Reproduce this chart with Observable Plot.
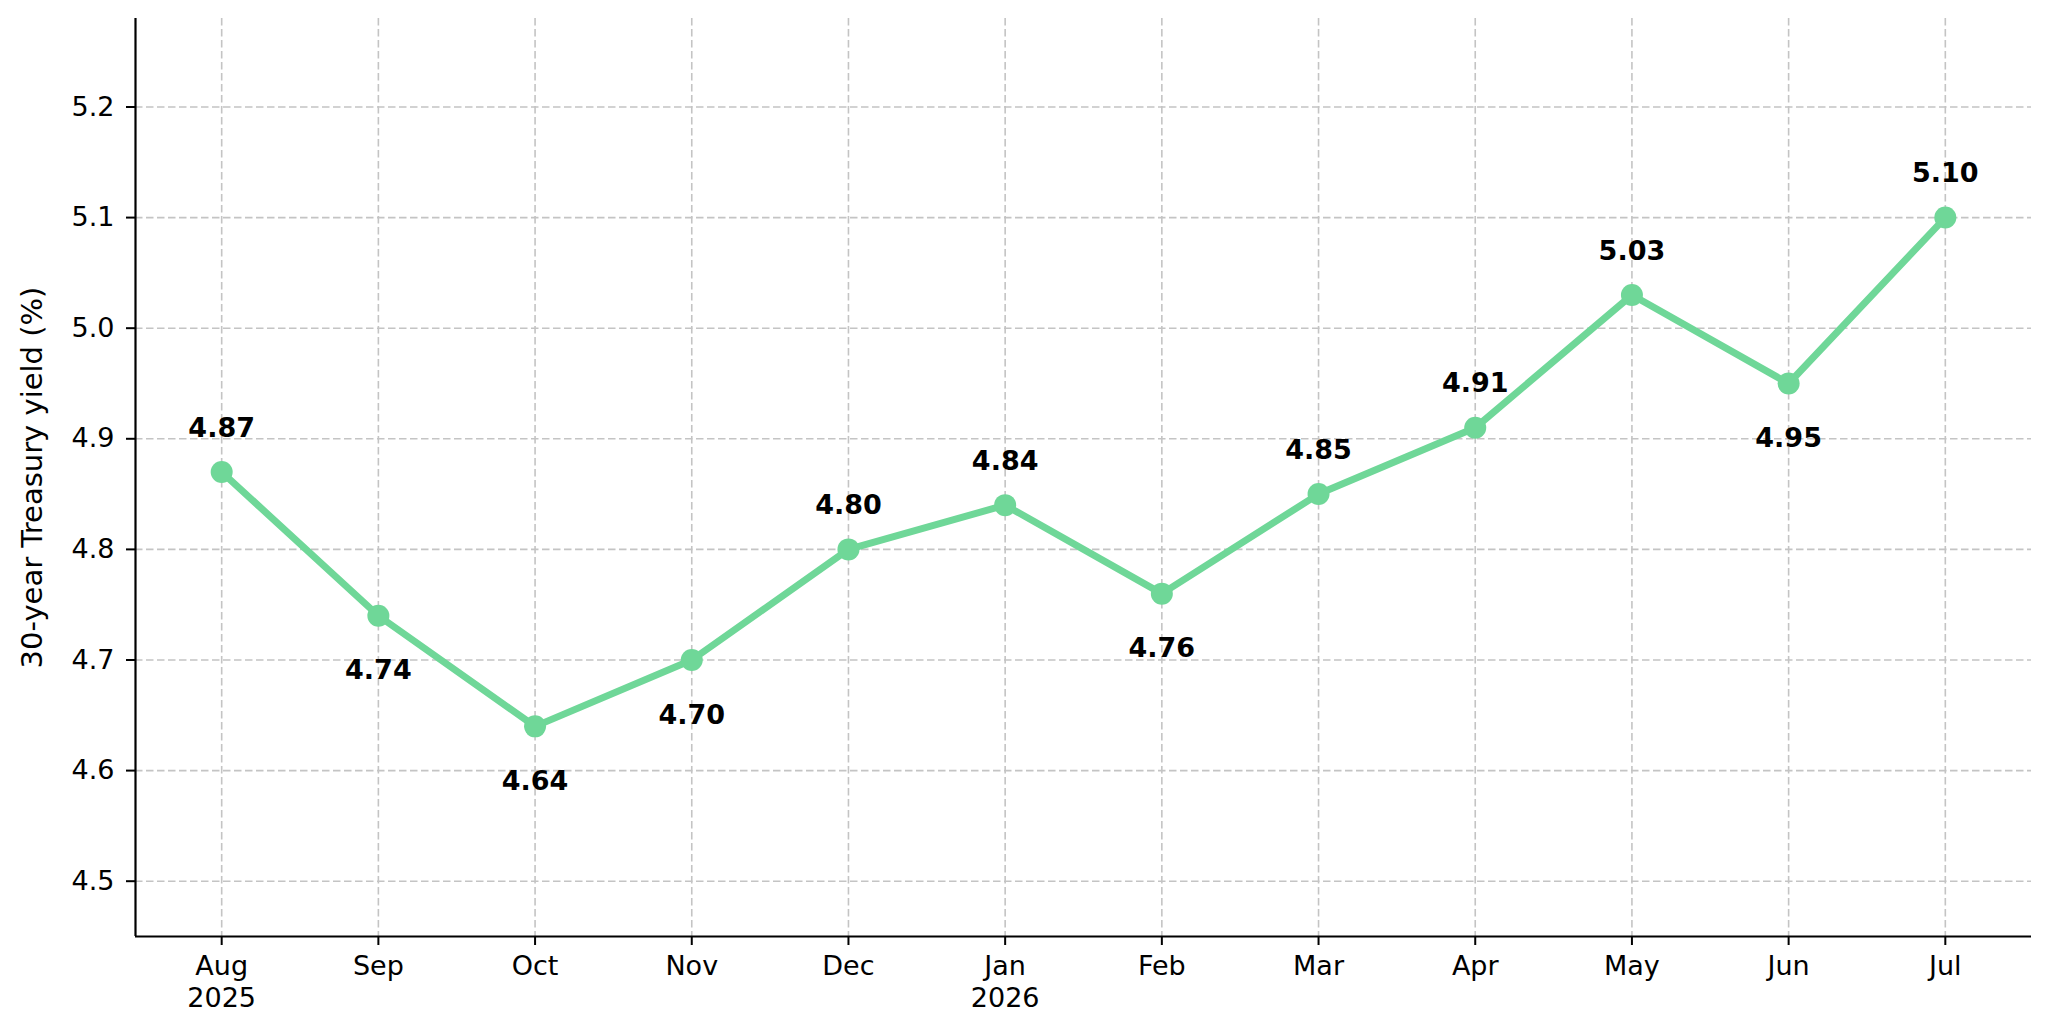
<!DOCTYPE html>
<html>
<head>
<meta charset="utf-8">
<script src="https://cdn.jsdelivr.net/npm/d3@7"></script>
<script src="https://cdn.jsdelivr.net/npm/@observablehq/plot@0.6"></script>
<style>
  html, body { margin: 0; padding: 0; background: #fff; }
  #chart svg { display: block; }
</style>
</head>
<body>
<div id="chart"></div>
<script>
// Data
const months = ["Aug", "Sep", "Oct", "Nov", "Dec", "Jan", "Feb", "Mar", "Apr", "May", "Jun", "Jul"];
const years = ["2025", "", "", "", "", "2026", "", "", "", "", "", ""];
const yields = [4.87, 4.74, 4.64, 4.70, 4.80, 4.84, 4.76, 4.85, 4.91, 5.03, 4.95, 5.10];
const belowLabelMonths = ["Sep", "Oct", "Nov", "Feb", "Jun"];
const yTicks = [4.5, 4.6, 4.7, 4.8, 4.9, 5.0, 5.1, 5.2];
const yLabel = "30-year Treasury yield (%)";

const data = months.map((m, i) => ({i, month: m, year: years[i], value: yields[i]}));
const xTicks = data.map(d => d.i);
const tickLabel = i => data[i].year ? `${data[i].month}\n${data[i].year}` : data[i].month;

const color = "#6fd798";
const gridStyle = {stroke: "#c4c4c4", strokeOpacity: 1, strokeWidth: 1.6, strokeDasharray: "7.5,3.5"};
const xDomain = [-0.55, months.length - 1 + 0.55];
const yDomain = [4.45, 5.28];

const chart = Plot.plot({
  width: 2048,
  height: 1030,
  marginLeft: 135,
  marginRight: 17,
  marginTop: 18,
  marginBottom: 94,
  style: {fontFamily: "DejaVu Sans", fontSize: "27px", color: "#000", background: "#fff"},
  x: {type: "linear", domain: xDomain, axis: null},
  y: {type: "linear", domain: yDomain, axis: null},
  marks: [
    Plot.gridY(yTicks, gridStyle),
    Plot.gridX(xTicks, gridStyle),
    Plot.axisY(yTicks, {tickFormat: d3.format(".1f"), tickSize: 9, tickPadding: 12, strokeWidth: 2, label: null, fontSize: 27}),
    Plot.axisX(xTicks, {tickFormat: tickLabel, tickSize: 9, tickPadding: 7, strokeWidth: 2, label: null, lineHeight: 1.18, fontSize: 27}),
    Plot.ruleX([xDomain[0]], {stroke: "#000", strokeWidth: 2.2}),
    Plot.ruleY([yDomain[0]], {stroke: "#000", strokeWidth: 2.2}),
    Plot.text([yLabel], {frameAnchor: "left", dx: -103, rotate: -90, fontSize: 29, textAnchor: "middle", lineAnchor: "middle", fill: "#000"}),
    Plot.line(data, {x: "i", y: "value", stroke: color, strokeWidth: 7, strokeLinejoin: "round", strokeLinecap: "round"}),
    Plot.dot(data, {x: "i", y: "value", r: 11, fill: color, stroke: null}),
    Plot.text(data.filter(d => !belowLabelMonths.includes(d.month)), {x: "i", y: "value", text: d => d.value.toFixed(2), fontWeight: "bold", fontSize: 27, lineAnchor: "middle", dy: -44, fill: "#000"}),
    Plot.text(data.filter(d => belowLabelMonths.includes(d.month)), {x: "i", y: "value", text: d => d.value.toFixed(2), fontWeight: "bold", fontSize: 27, lineAnchor: "middle", dy: 55, fill: "#000"})
  ]
});
document.getElementById("chart").appendChild(chart);
</script>
</body>
</html>
